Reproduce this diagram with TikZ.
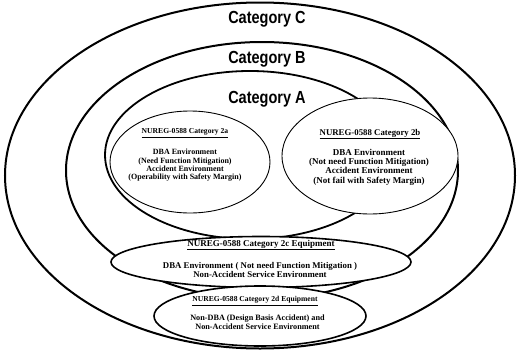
\documentclass[tikz,border=0pt]{standalone}
\usepackage{fontspec}
\setmainfont{Liberation Serif}
\newfontfamily\catfont[FakeStretch=0.83]{Liberation Sans}
\usetikzlibrary{shapes.geometric}
\begin{document}
\begin{tikzpicture}[x=1pt,y=-1pt,
  ring/.style={draw,ellipse,inner sep=0pt,line width=#1},
  cat/.style={font=\catfont\bfseries\fontsize{17.5}{19}\selectfont,inner sep=0pt,anchor=base},
  ttl/.style={font=\bfseries\fontsize{#1}{#1}\selectfont,inner sep=0pt},
  body/.style={align=center,inner sep=0pt}]
\useasboundingbox (0,0) rectangle (517,351);
% category rings
\node[ring=2pt,minimum width=510pt,minimum height=346pt] (C) at (260,175.5) {};
\node[ring=2pt,minimum width=392pt,minimum height=257pt] (B) at (262,170.5) {};
\node[ring=1.8pt,minimum width=290pt,minimum height=168pt] (A) at (250,155) {};
% inner ellipses
\node[ring=0.9pt,fill=white,minimum width=160pt,minimum height=102pt] (E2a) at (190,162) {};
\node[ring=0.9pt,fill=white,minimum width=176pt,minimum height=116pt] (E2b) at (370,156) {};
\node[ring=1.6pt,fill=white,minimum width=300pt,minimum height=51pt] (E2c) at (261,262) {};
\node[ring=1.6pt,fill=white,minimum width=212pt,minimum height=60pt] (E2d) at (260,316) {};
% category labels
\node[cat] (LC) at (267,23.5) {Category C};
\node[cat] (LB) at (267,63) {Category B};
\node[cat] (LA) at (267,103) {Category A};
% 2a
\node[ttl=7.6] (T2a) at (185,133) {\underline{NUREG-0588 Category 2a}};
\node[body,font=\bfseries\fontsize{8}{8.3}\selectfont] (B2a) at (185,165.5)
  {DBA Environment\\(Need Function Mitigation)\\Accident Environment\\(Operability with Safety Margin)};
% 2b
\node[ttl=8.8] (T2b) at (370,134) {\underline{NUREG-0588 Category 2b}};
\node[body,font=\bfseries\fontsize{9}{9.3}\selectfont] (B2b) at (369,167)
  {DBA Environment\\(Not need Function Mitigation)\\Accident Environment\\(Not fail with Safety Margin)};
% 2c
\node[ttl=9] (T2c) at (261,245) {\underline{NUREG-0588 Category 2c Equipment}};
\node[body,font=\bfseries\fontsize{8.8}{9}\selectfont] (B2c) at (260,269.5)
  {DBA Environment ( Not need Function Mitigation )\\Non-Accident Service Environment};
% 2d
\node[ttl=7.6] (T2d) at (255,301) {\underline{NUREG-0588 Category 2d Equipment}};
\node[body,font=\bfseries\fontsize{8.2}{9.5}\selectfont] (B2d) at (257.5,322)
  {Non-DBA (Design Basis Accident) and\\Non-Accident Service Environment};
\end{tikzpicture}
\end{document}
